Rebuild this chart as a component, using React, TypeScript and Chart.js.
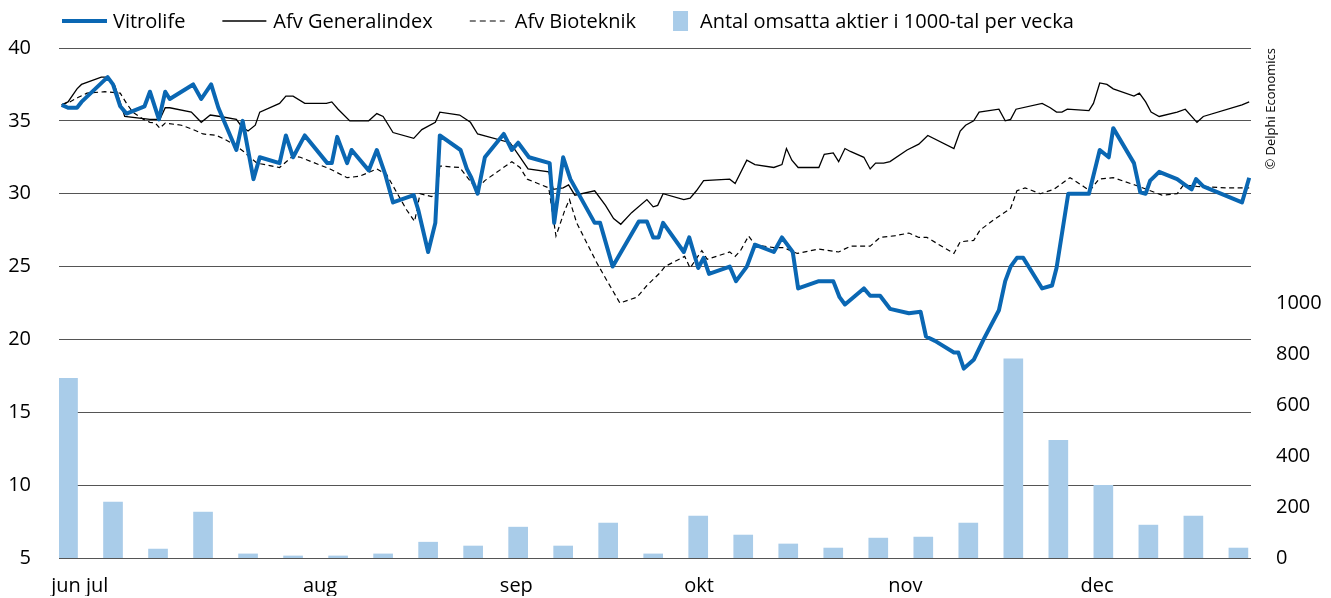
import { useEffect, useRef } from 'react';
import { Chart, registerables } from 'chart.js';

Chart.register(...registerables);

// ---- x axis (trading days from start of period) ----
const monthLabels = ['jun jul', 'aug', 'sep', 'okt', 'nov', 'dec'];
const monthTickDays = [2.2, 28.9, 50.7, 71.0, 93.9, 115.2];

// ---- Vitrolife ----
const vitrolifeDays = [0.2, 0.9, 1.9, 2.4, 5.3, 5.9, 6.7, 7.4, 9.4, 10.0, 11.0, 11.7, 12.2, 14.8, 15.7, 16.8, 17.6, 19.6, 20.3, 21.5, 22.2, 24.4, 25.1, 25.9, 27.2, 29.7, 30.2, 30.8, 31.9, 32.4, 34.3, 35.2, 36.1, 37.0, 39.3, 39.8, 40.9, 41.7, 42.2, 44.5, 45.2, 45.7, 46.4, 47.2, 49.3, 50.2, 50.9, 52.1, 54.4, 54.9, 55.9, 56.7, 59.4, 60.0, 61.4, 64.3, 65.2, 65.9, 66.5, 67.0, 69.3, 69.9, 70.9, 71.5, 72.1, 74.4, 75.1, 76.3, 77.2, 79.3, 80.2, 81.4, 82.0, 84.3, 85.9, 86.6, 87.2, 89.3, 90.0, 91.1, 92.2, 94.3, 95.6, 96.2, 97.2, 99.3, 99.8, 100.4, 101.5, 102.6, 104.3, 105.0, 105.6, 106.3, 107.0, 109.1, 110.2, 110.7, 112.0, 114.3, 115.5, 116.5, 117.0, 119.3, 120.0, 120.6, 121.1, 122.1, 124.1, 125.2, 125.7, 126.2, 127.0, 131.3, 132.1];
const vitrolifeValues = [36.1, 35.9, 35.9, 36.3, 38.0, 37.5, 36.0, 35.5, 36.0, 37.0, 35.1, 37.0, 36.5, 37.5, 36.5, 37.5, 35.9, 33.0, 35.0, 31.0, 32.5, 32.1, 34.0, 32.5, 34.0, 32.1, 32.1, 33.9, 32.1, 33.0, 31.6, 33.0, 31.4, 29.4, 29.9, 28.9, 26.0, 28.0, 34.0, 33.0, 31.7, 31.1, 30.0, 32.5, 34.1, 33.0, 33.5, 32.5, 32.1, 28.0, 32.5, 31.0, 28.0, 28.0, 25.0, 28.1, 28.1, 27.0, 27.0, 28.0, 26.0, 27.0, 24.9, 25.6, 24.5, 25.0, 24.0, 25.0, 26.5, 26.0, 27.0, 26.0, 23.5, 24.0, 24.0, 22.9, 22.4, 23.5, 23.0, 23.0, 22.1, 21.8, 21.9, 20.2, 19.9, 19.1, 19.1, 18.0, 18.6, 20.0, 22.0, 24.0, 25.0, 25.6, 25.6, 23.5, 23.7, 24.9, 30.0, 30.0, 33.0, 32.5, 34.5, 32.1, 30.1, 30.0, 30.9, 31.5, 31.0, 30.5, 30.3, 31.0, 30.5, 29.4, 31.1];

// ---- Afv Generalindex ----
const generalDays = [0.2, 0.9, 1.9, 2.4, 4.6, 5.2, 6.1, 7.2, 10.0, 11.1, 11.7, 12.2, 14.6, 15.7, 16.7, 17.8, 19.6, 20.2, 20.9, 21.7, 22.2, 24.4, 25.1, 25.9, 27.2, 29.6, 30.2, 30.9, 32.2, 34.3, 35.2, 35.9, 37.0, 39.3, 40.2, 41.7, 42.2, 44.4, 45.6, 46.4, 50.0, 50.9, 52.0, 54.3, 54.8, 55.9, 56.5, 57.2, 59.4, 60.6, 61.5, 62.3, 63.5, 65.2, 65.9, 66.4, 67.0, 69.3, 70.0, 70.7, 71.5, 74.4, 75.0, 76.3, 77.2, 79.3, 80.2, 80.7, 81.3, 82.0, 84.3, 84.9, 85.9, 86.5, 87.2, 87.8, 89.3, 90.0, 90.6, 91.5, 92.2, 94.1, 95.4, 96.4, 99.3, 100.0, 100.6, 101.5, 102.1, 104.3, 105.0, 105.6, 106.2, 109.1, 110.0, 110.7, 111.3, 111.9, 114.3, 114.8, 115.5, 116.3, 117.0, 119.3, 119.9, 120.6, 121.2, 122.1, 124.1, 125.0, 126.3, 127.0, 131.3, 132.1];
const generalValues = [36.1, 36.3, 37.2, 37.5, 38.0, 38.0, 37.4, 35.3, 35.1, 35.1, 35.9, 35.9, 35.6, 34.9, 35.4, 35.3, 35.1, 34.6, 34.3, 34.7, 35.6, 36.2, 36.7, 36.7, 36.2, 36.2, 36.3, 35.8, 35.0, 35.0, 35.5, 35.3, 34.2, 33.8, 34.4, 34.9, 35.6, 35.4, 34.9, 34.1, 33.5, 32.7, 31.7, 31.5, 30.3, 30.4, 30.6, 29.9, 30.2, 29.2, 28.3, 27.9, 28.7, 29.6, 29.1, 29.2, 30.0, 29.6, 29.7, 30.2, 30.9, 31.0, 30.7, 32.3, 32.0, 31.8, 32.0, 33.1, 32.3, 31.8, 31.8, 32.7, 32.8, 32.2, 33.1, 32.9, 32.5, 31.7, 32.1, 32.1, 32.2, 33.0, 33.4, 34.0, 33.1, 34.3, 34.7, 35.0, 35.6, 35.8, 35.0, 35.1, 35.8, 36.2, 35.9, 35.6, 35.6, 35.8, 35.7, 36.2, 37.6, 37.5, 37.2, 36.7, 36.9, 36.3, 35.6, 35.3, 35.6, 35.8, 34.9, 35.3, 36.1, 36.3];

// ---- Afv Bioteknik ----
const biotekDays = [0.2, 1.1, 2.0, 3.0, 5.0, 6.7, 7.4, 8.1, 9.3, 10.0, 10.6, 11.1, 11.7, 13.5, 14.8, 15.9, 17.4, 18.1, 19.3, 20.4, 21.1, 21.9, 24.4, 25.9, 26.7, 30.0, 31.9, 33.3, 35.2, 36.3, 37.4, 38.5, 39.4, 40.0, 41.3, 41.9, 42.2, 44.4, 46.3, 47.2, 50.2, 51.1, 51.9, 54.3, 55.1, 56.1, 56.6, 57.4, 59.6, 60.7, 62.2, 64.1, 65.2, 66.7, 67.2, 69.4, 70.0, 71.3, 71.9, 74.4, 75.0, 75.6, 76.5, 77.2, 79.3, 80.4, 81.9, 84.3, 86.5, 87.8, 90.0, 91.1, 92.6, 94.3, 95.4, 96.3, 99.3, 100.0, 101.5, 102.2, 103.7, 105.6, 106.3, 107.2, 108.9, 110.4, 112.2, 113.7, 114.4, 115.4, 117.0, 119.4, 120.7, 122.4, 124.1, 124.8, 126.3, 129.6, 132.1];
const biotekValues = [36.1, 36.3, 36.6, 36.9, 37.0, 36.9, 36.2, 35.6, 35.1, 34.9, 34.85, 34.5, 34.85, 34.7, 34.4, 34.1, 34.0, 33.8, 33.4, 32.9, 32.5, 32.1, 31.8, 32.6, 32.5, 31.7, 31.1, 31.2, 31.7, 31.3, 30.1, 28.9, 28.1, 30.0, 29.8, 30.2, 31.9, 31.8, 30.3, 30.9, 32.2, 31.8, 31.0, 30.4, 27.1, 28.9, 29.6, 28.0, 25.3, 24.1, 22.5, 22.9, 23.7, 24.6, 25.0, 25.7, 24.9, 26.1, 25.5, 26.0, 25.7, 26.1, 27.1, 26.5, 26.3, 26.3, 25.9, 26.2, 26.0, 26.4, 26.4, 27.0, 27.1, 27.3, 27.0, 27.0, 25.9, 26.7, 26.8, 27.5, 28.2, 29.0, 30.2, 30.4, 30.0, 30.3, 31.1, 30.5, 30.2, 31.0, 31.1, 30.6, 30.3, 29.9, 30.0, 30.6, 30.5, 30.4, 30.4];

// ---- weekly volume (thousands of shares) ----
const weeklyVolume = [705, 219, 35, 180, 16, 8, 8, 16, 62, 47, 121, 47, 137, 16, 164, 90, 55, 39, 78, 82, 137, 781, 461, 285, 129, 164, 39];
const firstWeekDay = 0.9;
const daysPerWeek = 5;

// ---- axes ----
const priceMin = 5;
const priceMax = 40;
const priceStep = 5;
const volumeMin = 0;
const volumeMax = 2000;
const volumeStep = 200;
const volumeTickMax = 1000;

const BLUE = '#0a67b3';
const BAR = '#a9cce9';
const GRID = '#555555';
const FONT = '"Open Sans", "Noto Sans", sans-serif';

// legend sample widths and gaps (style only)
const legendSampleWidths = [45, 44, 35, 15];
const legendSampleGaps = [6, 7, 10, 12];

const refPlugin = {
  id: 'refLegend',
  afterDraw(chart: any) {
    const ctx = chart.ctx as CanvasRenderingContext2D;
    const area = chart.chartArea;
    ctx.save();
    ctx.font = `20px ${FONT}`;
    ctx.textBaseline = 'alphabetic';
    let x = area.left + 3;
    const y = 21;
    chart.data.datasets.forEach((ds: any, i: number) => {
      const w = legendSampleWidths[i];
      if (ds.type === 'bar') {
        ctx.fillStyle = ds.backgroundColor;
        ctx.fillRect(x, y - 10, w, 20);
      } else {
        ctx.strokeStyle = ds.borderColor;
        ctx.lineWidth = ds.borderWidth;
        ctx.setLineDash(ds.borderDash ? [6, 4] : []);
        ctx.beginPath();
        ctx.moveTo(x, y);
        ctx.lineTo(x + w, y);
        ctx.stroke();
        ctx.setLineDash([]);
      }
      x += w + legendSampleGaps[i];
      ctx.fillStyle = '#000';
      ctx.fillText(ds.label, x, y + 7);
      x += ctx.measureText(ds.label).width + 37;
    });

    // copyright, rotated
    ctx.font = `13px ${FONT}`;
    ctx.fillStyle = '#000';
    ctx.translate(area.right + 20, area.top);
    ctx.rotate(-Math.PI / 2);
    ctx.textAlign = 'right';
    ctx.textBaseline = 'middle';
    ctx.fillText('© Delphi Economics', 0, 0);
    ctx.restore();
  },
};

export default function App() {
  const canvasRef = useRef<HTMLCanvasElement>(null);

  useEffect(() => {
    document.body.style.margin = '0';
    document.body.style.overflow = 'hidden';
    const canvas = canvasRef.current;
    if (!canvas) return;

    const toPoints = (days: number[], vals: number[]) => days.map((d, i) => ({ x: d, y: vals[i] }));

    const chart = new Chart(canvas, {
      type: 'bar',
      data: {
        datasets: [
          {
            type: 'line',
            label: 'Vitrolife',
            data: toPoints(vitrolifeDays, vitrolifeValues),
            borderColor: BLUE,
            backgroundColor: BLUE,
            borderWidth: 4,
            borderJoinStyle: 'round',
            pointRadius: 0,
            tension: 0,
            fill: false,
            yAxisID: 'y',
            xAxisID: 'x',
            order: 0,
          },
          {
            type: 'line',
            label: 'Afv Generalindex',
            data: toPoints(generalDays, generalValues),
            borderColor: '#000000',
            backgroundColor: '#000000',
            borderWidth: 1.3,
            pointRadius: 0,
            tension: 0,
            fill: false,
            yAxisID: 'y',
            xAxisID: 'x',
            order: 2,
          },
          {
            type: 'line',
            label: 'Afv Bioteknik',
            data: toPoints(biotekDays, biotekValues),
            borderColor: '#000000',
            backgroundColor: '#000000',
            borderWidth: 1.2,
            borderDash: [5, 3.5],
            pointRadius: 0,
            tension: 0,
            fill: false,
            yAxisID: 'y',
            xAxisID: 'x',
            order: 1,
          },
          {
            type: 'bar',
            label: 'Antal omsatta aktier i 1000-tal per vecka',
            data: weeklyVolume.map((v, i) => ({ x: firstWeekDay + i * daysPerWeek, y: v })),
            backgroundColor: BAR,
            borderWidth: 0,
            barThickness: 19,
            yAxisID: 'y2',
            xAxisID: 'x',
            order: 5,
          },
        ] as any,
      },
      options: {
        animation: false,
        responsive: true,
        maintainAspectRatio: false,
        layout: { padding: { top: 48, left: 0, right: 0, bottom: 0 } },
        plugins: {
          legend: { display: false },
          tooltip: { enabled: false },
        },
        scales: {
          x: {
            type: 'linear',
            min: -0.1,
            max: 132.3,
            offset: false,
            grid: { display: false, drawTicks: false },
            border: { display: false },
            afterBuildTicks: (s: any) => {
              s.ticks = monthTickDays.map((v) => ({ value: v }));
            },
            afterFit: (s: any) => {
              s.height = 38;
            },
            ticks: {
              autoSkip: false,
              maxRotation: 0,
              minRotation: 0,
              padding: 16,
              color: '#000',
              font: { family: FONT, size: 20 },
              callback: (_v: any, i: number) => monthLabels[i],
            },
          },
          y: {
            type: 'linear',
            position: 'left',
            min: priceMin,
            max: priceMax,
            grid: { color: GRID, lineWidth: 1, drawTicks: false },
            border: { display: false },
            afterFit: (s: any) => {
              s.width = 59;
            },
            ticks: {
              stepSize: priceStep,
              padding: 28,
              color: '#000',
              font: { family: FONT, size: 20 },
              callback: (v: any) => String(v),
            },
          },
          y2: {
            type: 'linear',
            position: 'right',
            min: volumeMin,
            max: volumeMax,
            grid: { display: false, drawTicks: false },
            border: { display: false },
            afterBuildTicks: (s: any) => {
              s.ticks = s.ticks.filter((t: any) => t.value <= volumeTickMax);
            },
            afterFit: (s: any) => {
              s.width = 80;
            },
            ticks: {
              stepSize: volumeStep,
              padding: 25,
              color: '#000',
              font: { family: FONT, size: 20 },
              callback: (v: any) => String(v),
            },
          },
        },
      } as any,
      plugins: [refPlugin],
    });

    return () => chart.destroy();
  }, []);

  return (
    <div style={{ position: 'relative', width: 1331, height: 598 }}>
      <canvas ref={canvasRef} />
    </div>
  );
}
